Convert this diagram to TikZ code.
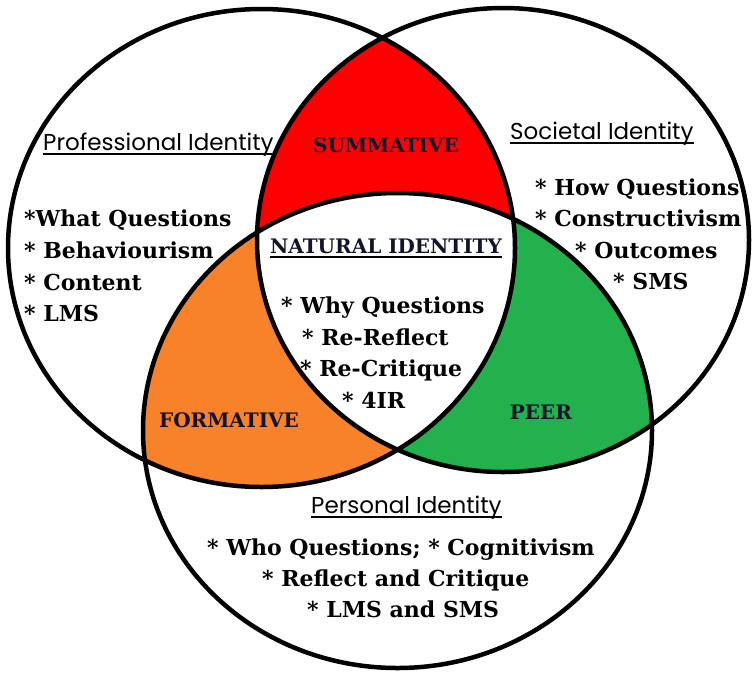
\documentclass[tikz,border=0pt]{standalone}
\usepackage{fontspec}
\setmainfont{DejaVu Serif}
\newfontfamily\headfont{Poppins}
\definecolor{redfill}{RGB}{255,0,0}
\definecolor{orangefill}{RGB}{247,130,41}
\definecolor{greenfill}{RGB}{34,177,76}
\definecolor{labink}{RGB}{20,20,45}
\tikzset{
  ring/.style={draw=black, line width=4.5pt},
  heading/.style={inner sep=0pt, anchor=base west, font=\headfont\fontsize{23}{26}\selectfont},
  item/.style={inner sep=0pt, anchor=base west, font=\bfseries\fontsize{22}{26}\selectfont},
  zone/.style={inner sep=0pt, anchor=base, text=labink, font=\bfseries\fontsize{20}{24}\selectfont},
  uline/.style={draw=black, line width=1.8pt}
}
\def\leftEll{(261.5,248) ellipse [x radius=253.5pt, y radius=239pt]}
\def\rightEll{(503,240) ellipse [x radius=246pt, y radius=232pt]}
\def\bottomEll{(397.5,430.5) ellipse [x radius=254.5pt, y radius=237.5pt]}
\begin{document}
\begin{tikzpicture}[x=1pt,y=-1pt]
\useasboundingbox (0,0) rectangle (755,673);
\fill[white] (0,0) rectangle (755,673);
\begin{scope} \clip \leftEll; \fill[redfill] \rightEll; \end{scope}
\begin{scope} \clip \leftEll; \fill[orangefill] \bottomEll; \end{scope}
\begin{scope} \clip \rightEll; \fill[greenfill] \bottomEll; \end{scope}
\begin{scope} \clip \leftEll; \clip \rightEll; \fill[white] \bottomEll; \end{scope}
\draw[ring] \leftEll;
\draw[ring] \rightEll;
\draw[ring] \bottomEll;
% headings
\node[heading] (prof) at (43,150) {Professional Identity};
\node[heading] (soc) at (510,139) {Societal Identity};
\node[heading] (pers) at (311,513) {Personal Identity};
\foreach \n in {prof,soc,pers}
  \draw[uline] ([yshift=-4pt]\n.base west) -- ([yshift=-4pt]\n.base east);
% zone labels
\node[zone] (summ) at (386,152) {SUMMATIVE};
\node[zone] (nat) at (386,253) {NATURAL IDENTITY};
\draw[uline] ([yshift=-4pt]nat.base west) -- ([yshift=-4pt]nat.base east);
\node[zone] (form) at (229,427) {FORMATIVE};
\node[zone] (peer) at (541,419) {PEER};
% professional list
\node[item] (p1) at (24,226) {*What Questions};
\node[item] (p2) at (24,258) {* Behaviourism};
\node[item] (p3) at (24,290) {* Content};
\node[item] (p4) at (24,321) {* LMS};
% societal list
\node[item] (s1) at (535,195) {* How Questions};
\node[item] (s2) at (535,226) {* Constructivism};
\node[item] (s3) at (575,258) {* Outcomes};
\node[item] (s4) at (613,289) {* SMS};
% natural list
\node[item] (n1) at (281,313) {* Why Questions};
\node[item] (n2) at (302,345) {* Re-Reflect};
\node[item] (n3) at (300,376) {* Re-Critique};
\node[item] (n4) at (342,408) {* 4IR};
% personal list
\node[item] (q1) at (207,555) {* Who Questions; * Cognitivism};
\node[item] (q2) at (262,586) {* Reflect and Critique};
\node[item] (q3) at (307,617) {* LMS and SMS};
\end{tikzpicture}
\end{document}
